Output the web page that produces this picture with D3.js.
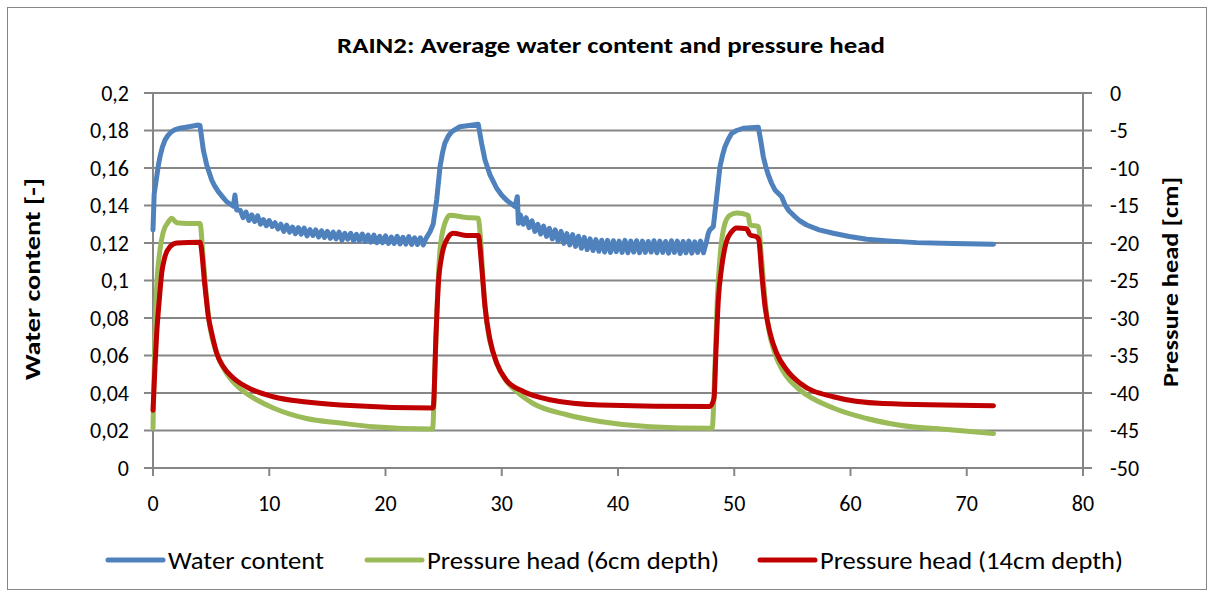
<!DOCTYPE html>
<html>
<head>
<meta charset="utf-8">
<script src="https://cdn.jsdelivr.net/npm/d3@7"></script>
<style>
  body { margin: 0; background: #fff; }
  svg { font-family: Carlito, Lato, "Open Sans", sans-serif; }
</style>
</head>
<body>
<svg></svg>
<script>
// water content [-] (left axis), [time h, value]
let wcPoints = [
  [0,0.127],[0.1,0.146],[0.32,0.1554],[0.45,0.1610],[0.6,0.166],[0.8,0.1710],[1.03,0.1749],[1.3,0.1775],[1.6,0.1794],[1.9,0.1805],[2.32,0.1812],[3.1,0.1820],[3.9,0.1829],
  [4.04,0.1827],[4.33,0.1696],[4.62,0.1616],[5.05,0.1536],[5.3,0.1505],[5.62,0.1474],[6.0,0.1445],[6.34,0.142],[6.91,0.1397],[7.05,0.1456],[7.2,0.1376],
  [7.5,0.1375],[7.75,0.1335],[8.0,0.1365],[8.25,0.1320],[8.5,0.1350],[8.75,0.1315],[9.0,0.1345],[9.25,0.1300],
  [9.5,0.1325],[9.75,0.1292],[10.0,0.1320],[10.25,0.1288],[10.5,0.1308],[10.75,0.1275],[11.0,0.1300],[11.25,0.1262],
  [11.5,0.1295],[11.75,0.1258],[12.0,0.1285],[12.25,0.1250],[12.5,0.1282],[12.75,0.1247],[13.0,0.1280],[13.25,0.1238],
  [13.5,0.1272],[13.75,0.1240],[14.0,0.1270],[14.25,0.1232],[14.5,0.1265],[14.75,0.1230],[15.0,0.1262],[15.25,0.1225],
  [15.5,0.1258],[15.75,0.1222],[16.0,0.1258],[16.25,0.1215],[16.5,0.1252],[16.75,0.1220],[17.0,0.1252],[17.25,0.1212],
  [17.5,0.1246],[17.75,0.1212],[18.0,0.1248],[18.25,0.1208],[18.5,0.1242],[18.75,0.1205],[19.0,0.1242],[19.25,0.1202],
  [19.5,0.1236],[19.75,0.1202],[20.0,0.1238],[20.25,0.1198],[20.5,0.1232],[20.75,0.1198],[21.0,0.1236],[21.25,0.1195],
  [21.5,0.1230],[21.75,0.1194],[22.0,0.1234],[22.25,0.1192],[22.5,0.1228],[22.75,0.1192],[23.0,0.1228],[23.25,0.1190],[23.5,0.1226],
  [23.83,0.1260],[24.1,0.1300],[24.4,0.1429],[24.69,0.1607],[24.9,0.1680],[25.1,0.1731],[25.4,0.1770],[25.7,0.1794],[26.4,0.1820],[27.98,0.1833],
  [28.27,0.1731],[28.56,0.1643],[28.99,0.1563],[29.56,0.1492],[30.0,0.1455],[30.4,0.1429],[31.14,0.1394],[31.34,0.1447],[31.43,0.1305],
  [31.6,0.1350],[31.85,0.1300],[32.1,0.1335],[32.35,0.1282],[32.6,0.1318],[32.85,0.1262],[33.1,0.1300],[33.35,0.1248],
  [33.6,0.1290],[33.85,0.1235],[34.1,0.1278],[34.35,0.1222],[34.6,0.1270],[34.85,0.1210],[35.1,0.1262],[35.35,0.1198],
  [35.6,0.1250],[35.85,0.1190],[36.1,0.1245],[36.35,0.1182],[36.6,0.1236],[36.85,0.1172],[37.1,0.1230],[37.35,0.1165],
  [37.6,0.1222],[37.85,0.1160],[38.1,0.1218],[38.35,0.1156],[38.6,0.1215],[38.85,0.1152],[39.1,0.1214],[39.35,0.1150],
  [39.6,0.1212],[39.85,0.1154],[40.1,0.1210],[40.35,0.1150],[40.6,0.1214],[40.85,0.1148],[41.1,0.1210],[41.35,0.1152],
  [41.6,0.1212],[41.85,0.1148],[42.1,0.1210],[42.35,0.1150],[42.6,0.1208],[42.85,0.1152],[43.1,0.1212],[43.35,0.1148],
  [43.6,0.1210],[43.85,0.1150],[44.1,0.1208],[44.35,0.1146],[44.6,0.1212],[44.85,0.1150],[45.1,0.1210],[45.35,0.1144],
  [45.6,0.1208],[45.85,0.1148],[46.1,0.1210],[46.35,0.1146],[46.6,0.1206],[46.85,0.1150],[47.1,0.1210],[47.35,0.1148],[47.6,0.1205],
  [47.77,0.1252],[47.9,0.1270],[48.2,0.1287],[48.49,0.1447],[48.77,0.1607],[49.0,0.1670],[49.2,0.1713],[49.5,0.1755],[49.78,0.1785],[50.2,0.1800],[50.78,0.1812],[52.07,0.1817],
  [52.27,0.1749],[52.5,0.1660],[52.7,0.1610],[52.93,0.1563],[53.2,0.1520],[53.5,0.1483],[54.08,0.1447],[54.37,0.1403],[54.7,0.1372],[55.08,0.1349],[55.6,0.1320],[56.23,0.1296],
  [57.3,0.1270],[58.52,0.1252],[59.9,0.1235],[61.4,0.1220],[63.5,0.1210],[65.7,0.1202],[68.8,0.1197],[72.3,0.1193]
];

// pressure head at 6cm depth [cm] (right axis)
let ph6Points = [
  [0,-44.7],[0.17,-32],[0.32,-25.8],[0.6,-20.9],[0.89,-18.5],[1.32,-17.2],[1.6,-16.7],[2.04,-17.3],[3.0,-17.4],[4.04,-17.4],
  [4.33,-22.3],[4.62,-27.6],[4.9,-31.2],[5.48,-34.7],[6.34,-37.4],[7.48,-39.4],[8.92,-40.9],[10.35,-42.0],[13.2,-43.4],
  [16.1,-44.0],[18.95,-44.5],[24.05,-44.8],
  [24.26,-36.5],[24.46,-27.6],[24.69,-20.9],[25.1,-17.4],[25.55,-16.3],[27.0,-16.6],[27.98,-16.7],[28.18,-19.6],[28.41,-25.4],
  [28.76,-31.2],[29.27,-34.7],[30.13,-37.8],[31.28,-39.8],[32.7,-41.4],[35.6,-42.9],[38.45,-43.8],[42.75,-44.5],[48.1,-44.7],
  [48.34,-36.5],[48.54,-27.6],[48.83,-20.9],[49.2,-17.4],[49.63,-16.3],[50.2,-16.0],[51.2,-16.3],[51.35,-17.6],[52.07,-17.8],
  [52.36,-22.3],[52.65,-27.6],[52.93,-31.2],[53.5,-34.7],[54.5,-37.8],[55.66,-39.6],[58.52,-42.0],[61.4,-43.4],[64.26,-44.3],
  [68.57,-44.9],[72.3,-45.4]
];

// pressure head at 14cm depth [cm] (right axis)
let ph14Points = [
  [0,-42.3],[0.17,-36.5],[0.32,-32.0],[0.54,-27.6],[0.75,-24.0],[1.03,-21.8],[1.46,-20.5],[2.04,-20.0],[4.04,-19.9],
  [4.47,-25.8],[4.76,-29.8],[5.05,-32.0],[5.48,-34.7],[6.05,-36.5],[6.91,-38.0],[8.06,-39.2],[10.35,-40.5],[13.2,-41.2],
  [16.1,-41.6],[24.1,-42.0],
  [24.35,-32],[24.55,-25.4],[24.83,-21.8],[25.26,-19.6],[25.83,-18.7],[27.0,-19.0],[27.98,-19.0],[28.27,-23.1],[28.56,-28.5],
  [28.99,-32.9],[29.56,-36.0],[30.4,-38.3],[31.86,-39.8],[34.15,-40.9],[38.45,-41.6],[47.9,-41.8],
  [48.26,-40.7],[48.43,-34.3],[48.63,-27.6],[48.92,-23.2],[49.29,-20.0],[49.78,-18.5],[50.2,-18.0],[51.06,-18.1],[51.35,-18.9],
  [51.93,-19.2],[52.1,-19.5],[52.36,-24.0],[52.65,-28.5],[53.08,-32.0],[53.65,-34.7],[54.5,-36.9],[55.66,-38.7],[58.52,-40.5],
  [62.8,-41.4],[72.3,-41.7]
];

let xTicks = [0,10,20,30,40,50,60,70,80];
let yLeftTicks = [0,0.02,0.04,0.06,0.08,0.1,0.12,0.14,0.16,0.18,0.2];
let yRightTicks = [0,-5,-10,-15,-20,-25,-30,-35,-40,-45,-50];

let seriesNames = ["Water content","Pressure head (6cm depth)","Pressure head (14cm depth)"];
let seriesColors = ["#4F81BD","#9BBB59","#C00000"];

var svgWidth = 1213, svgHeight = 594;
var plotLeft = 153, plotRight = 1083, plotTop = 93, plotBottom = 468;
var gridColor = "#868686";

var svg = d3.select("svg").attr("width", svgWidth).attr("height", svgHeight);

svg.append("rect")
   .attr("x", 7.5).attr("y", 7.5)
   .attr("width", 1199).attr("height", 582)
   .attr("fill", "none").attr("stroke", gridColor).attr("stroke-width", 1);

var x = d3.scaleLinear().domain([0,80]).range([plotLeft,plotRight]);
var yL = d3.scaleLinear().domain([0,0.2]).range([plotBottom,plotTop]);
var yR = d3.scaleLinear().domain([-50,0]).range([plotBottom,plotTop]);

// gridlines (with left tick marks)
svg.append("g").selectAll("line")
   .data(yLeftTicks)
   .enter().append("line")
   .attr("x1", plotLeft - 9).attr("x2", plotRight)
   .attr("y1", d => yL(d)).attr("y2", d => yL(d))
   .attr("stroke", gridColor).attr("stroke-width", 2);

// right axis ticks
svg.append("g").selectAll("line")
   .data(yRightTicks)
   .enter().append("line")
   .attr("x1", plotRight).attr("x2", plotRight + 9)
   .attr("y1", d => yR(d)).attr("y2", d => yR(d))
   .attr("stroke", gridColor).attr("stroke-width", 2);

// x ticks
svg.append("g").selectAll("line")
   .data(xTicks)
   .enter().append("line")
   .attr("x1", d => x(d)).attr("x2", d => x(d))
   .attr("y1", plotBottom).attr("y2", plotBottom + 8)
   .attr("stroke", gridColor).attr("stroke-width", 2);

// axis lines
svg.append("line").attr("x1", plotLeft).attr("x2", plotLeft).attr("y1", plotTop).attr("y2", plotBottom)
   .attr("stroke", gridColor).attr("stroke-width", 2);
svg.append("line").attr("x1", plotRight).attr("x2", plotRight).attr("y1", plotTop).attr("y2", plotBottom + 8)
   .attr("stroke", gridColor).attr("stroke-width", 2);

// tick labels
var fmtL = d => (d === 0 ? "0" : String(+d.toFixed(2)).replace(".", ","));
svg.append("g").selectAll("text")
   .data(yLeftTicks)
   .enter().append("text")
   .attr("x", 129).attr("y", d => yL(d))
   .attr("dy", "0.36em").attr("text-anchor", "end")
   .attr("font-size", 22).attr("fill", "#000")
   .text(fmtL);

svg.append("g").selectAll("text")
   .data(yRightTicks)
   .enter().append("text")
   .attr("x", 1110).attr("y", d => yR(d))
   .attr("dy", "0.36em").attr("text-anchor", "start")
   .attr("font-size", 22).attr("fill", "#000")
   .text(d => d);

svg.append("g").selectAll("text")
   .data(xTicks)
   .enter().append("text")
   .attr("x", d => x(d)).attr("y", 503)
   .attr("dy", "0.36em").attr("text-anchor", "middle")
   .attr("font-size", 22).attr("fill", "#000")
   .text(d => d);

// titles
svg.append("text").attr("x", 611).attr("y", 45).attr("dy", "0.36em")
   .attr("text-anchor", "middle").attr("font-size", 23).attr("font-weight", "bold")
   .attr("textLength", 548).attr("lengthAdjust", "spacingAndGlyphs")
   .text("RAIN2: Average water content and pressure head");

svg.append("text").attr("transform", "translate(32,279) rotate(-90)")
   .attr("dy", "0.36em").attr("text-anchor", "middle")
   .attr("font-size", 22).attr("font-weight", "bold")
   .attr("textLength", 202).attr("lengthAdjust", "spacingAndGlyphs")
   .text("Water content [-]");

svg.append("text").attr("transform", "translate(1170,282) rotate(-90)")
   .attr("dy", "0.36em").attr("text-anchor", "middle")
   .attr("font-size", 22).attr("font-weight", "bold")
   .attr("textLength", 210).attr("lengthAdjust", "spacingAndGlyphs")
   .text("Pressure head [cm]");

// series (water content straight segments so the noisy part stays jagged)
var lineL = d3.line().x(d => x(d[0])).y(d => yL(d[1]));
var lineR = d3.line().x(d => x(d[0])).y(d => yR(d[1])).curve(d3.curveMonotoneX);

var series = [
  {pts: wcPoints, line: lineL},
  {pts: ph6Points, line: lineR},
  {pts: ph14Points, line: lineR}
];

svg.append("g").selectAll("path")
   .data(series)
   .enter().append("path")
   .attr("d", d => d.line(d.pts))
   .attr("fill", "none")
   .attr("stroke", (d,i) => seriesColors[i])
   .attr("stroke-width", 5)
   .attr("stroke-linejoin", "round")
   .attr("stroke-linecap", "round");

// legend
var legendX = [108, 367, 760];
var legendW = [156, 292, 303];
var legend = svg.append("g").selectAll("g")
   .data(seriesNames)
   .enter().append("g")
   .attr("transform", (d,i) => `translate(${legendX[i]},560)`);
legend.append("line")
   .attr("x1", 0).attr("x2", 55).attr("y1", 0).attr("y2", 0)
   .attr("stroke", (d,i) => seriesColors[i]).attr("stroke-width", 5)
   .attr("stroke-linecap", "round");
legend.append("text")
   .attr("x", 60).attr("dy", "0.36em")
   .attr("font-size", 25).attr("fill", "#000")
   .attr("textLength", (d,i) => legendW[i]).attr("lengthAdjust", "spacingAndGlyphs")
   .text(d => d);
</script>
</body>
</html>
